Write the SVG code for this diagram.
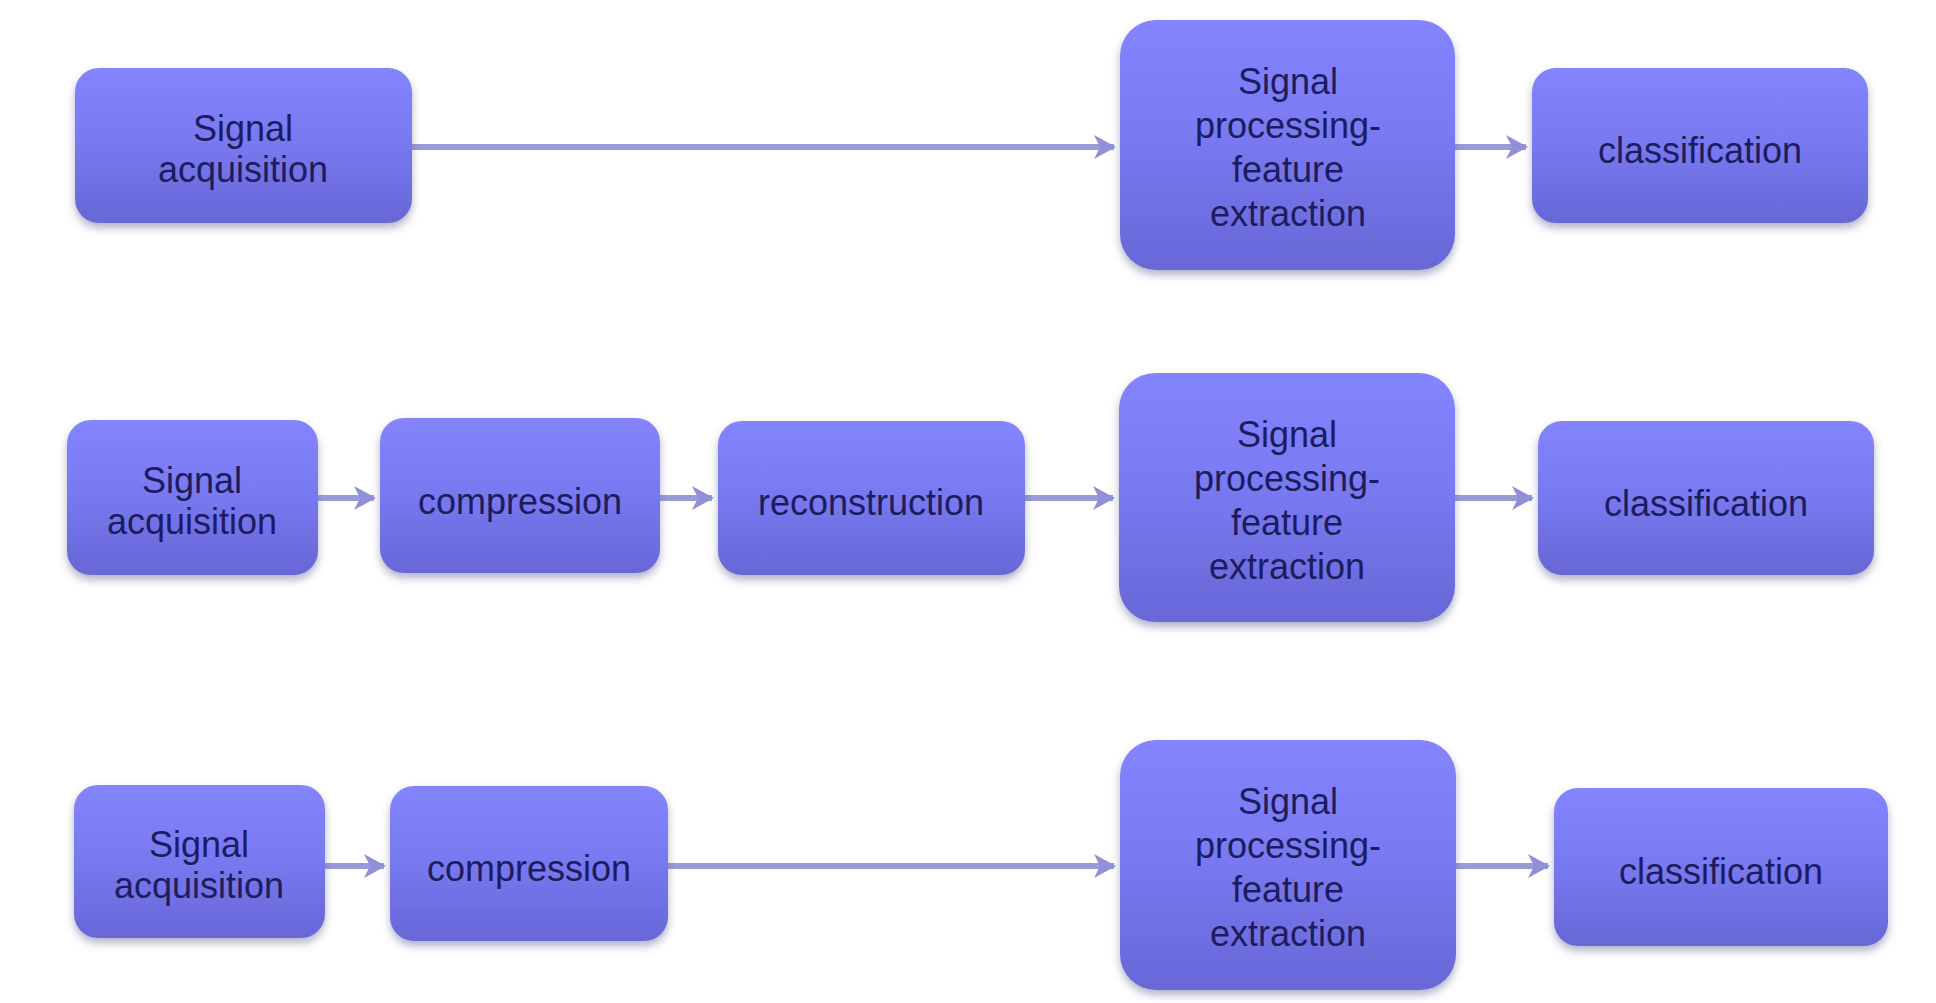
<svg xmlns="http://www.w3.org/2000/svg" width="1936" height="1003" viewBox="0 0 1936 1003">
<defs>
<linearGradient id="g" x1="0" y1="0" x2="0" y2="1">
<stop offset="0" stop-color="#8484ff"/>
<stop offset="0.5" stop-color="#7878f0"/>
<stop offset="1" stop-color="#6767d6"/>
</linearGradient>
<filter id="sh" x="-10%" y="-10%" width="120%" height="130%">
<feDropShadow dx="0" dy="5" stdDeviation="4" flood-color="#55558a" flood-opacity="0.45"/>
</filter>
<marker id="ah" viewBox="0 0 12 12" refX="10" refY="6" markerWidth="4" markerHeight="4" orient="auto" markerUnits="strokeWidth">
<path d="M0,0 L11,6 L0,12 L3,6 Z" fill="#9090d8"/>
</marker>
</defs>
<style>
.box{fill:url(#g);filter:url(#sh);}
.t{font-family:"Liberation Sans",Arial,sans-serif;font-size:36px;fill:#1c1c5e;text-anchor:middle;}
.c{stroke:#9a9ad8;stroke-width:6;fill:none;marker-end:url(#ah);}
</style>
<rect width="1936" height="1003" fill="#ffffff"/>
<g id="connectors">
<line class="c" x1="412" y1="147" x2="1114" y2="147"/>
<line class="c" x1="1455" y1="147" x2="1526" y2="147"/>
<line class="c" x1="318" y1="498" x2="374" y2="498"/>
<line class="c" x1="660" y1="498" x2="712" y2="498"/>
<line class="c" x1="1025" y1="498" x2="1113" y2="498"/>
<line class="c" x1="1455" y1="498" x2="1532" y2="498"/>
<line class="c" x1="325" y1="866" x2="384" y2="866"/>
<line class="c" x1="668" y1="866" x2="1114" y2="866"/>
<line class="c" x1="1456" y1="866" x2="1548" y2="866"/>
</g>
<g id="r1-acq"><rect class="box" x="75" y="68" width="337" height="155" rx="24"/><text class="t" x="243" y="141">Signal</text><text class="t" x="243" y="182">acquisition</text></g>
<g id="r1-proc"><rect class="box" x="1120" y="20" width="335" height="250" rx="36"/><text class="t" x="1288" y="94">Signal</text><text class="t" x="1288" y="138">processing-</text><text class="t" x="1288" y="182">feature</text><text class="t" x="1288" y="226">extraction</text></g>
<g id="r1-cls"><rect class="box" x="1532" y="68" width="336" height="155" rx="24"/><text class="t" x="1700" y="163">classification</text></g>

<g id="r2-acq"><rect class="box" x="67" y="420" width="251" height="155" rx="24"/><text class="t" x="192" y="493">Signal</text><text class="t" x="192" y="534">acquisition</text></g>
<g id="r2-comp"><rect class="box" x="380" y="418" width="280" height="155" rx="24"/><text class="t" x="520" y="514">compression</text></g>
<g id="r2-rec"><rect class="box" x="718" y="421" width="307" height="154" rx="24"/><text class="t" x="871" y="515">reconstruction</text></g>
<g id="r2-proc"><rect class="box" x="1119" y="373" width="336" height="249" rx="36"/><text class="t" x="1287" y="447">Signal</text><text class="t" x="1287" y="491">processing-</text><text class="t" x="1287" y="535">feature</text><text class="t" x="1287" y="579">extraction</text></g>
<g id="r2-cls"><rect class="box" x="1538" y="421" width="336" height="154" rx="24"/><text class="t" x="1706" y="516">classification</text></g>

<g id="r3-acq"><rect class="box" x="74" y="785" width="251" height="153" rx="24"/><text class="t" x="199" y="857">Signal</text><text class="t" x="199" y="898">acquisition</text></g>
<g id="r3-comp"><rect class="box" x="390" y="786" width="278" height="155" rx="24"/><text class="t" x="529" y="881">compression</text></g>
<g id="r3-proc"><rect class="box" x="1120" y="740" width="336" height="250" rx="36"/><text class="t" x="1288" y="814">Signal</text><text class="t" x="1288" y="858">processing-</text><text class="t" x="1288" y="902">feature</text><text class="t" x="1288" y="946">extraction</text></g>
<g id="r3-cls"><rect class="box" x="1554" y="788" width="334" height="158" rx="24"/><text class="t" x="1721" y="884">classification</text></g>
</svg>
